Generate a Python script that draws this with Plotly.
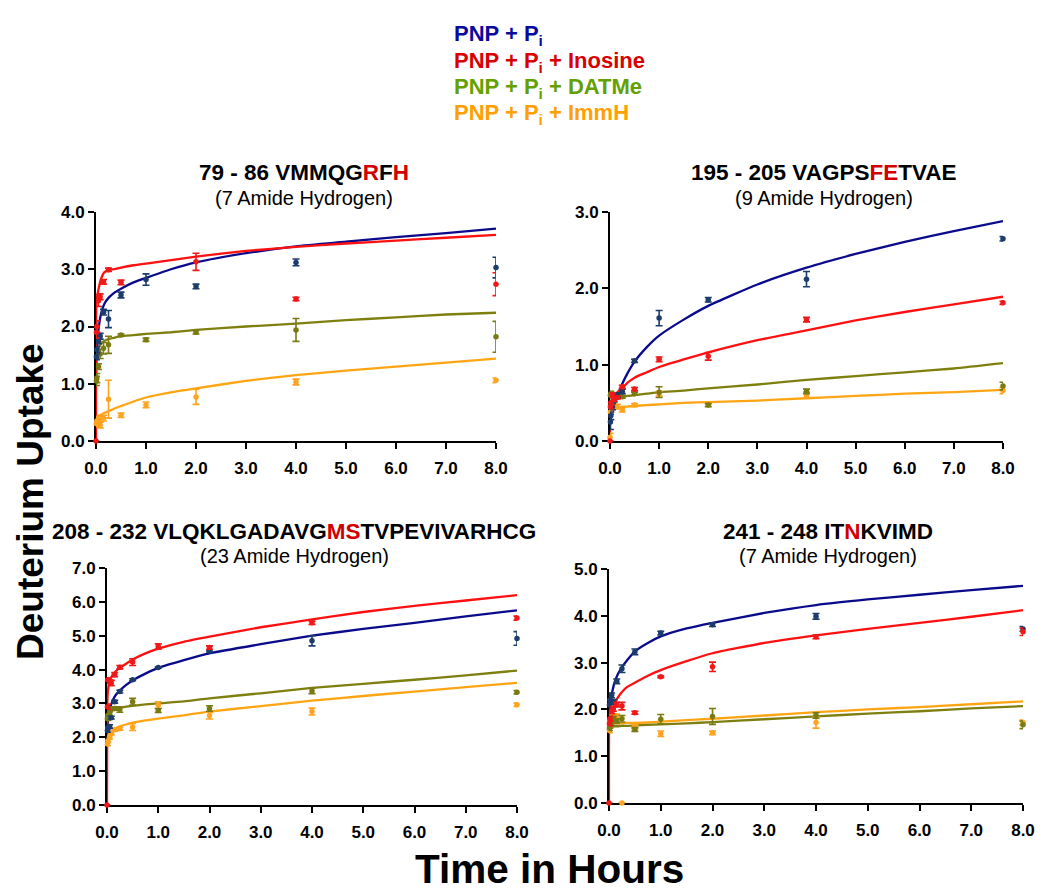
import plotly.graph_objects as go

# ---------------- data ----------------
T = [0, 0.0083, 0.0167, 0.05, 0.083, 0.15, 0.25, 0.5, 1, 2, 4, 8]
CT = [0, 0.004, 0.02, 0.05, 0.1, 0.17, 0.25, 0.35, 0.5, 0.75, 1, 1.5, 2, 3, 4, 5, 6, 7, 8]

# Panel 1: 79 - 86
p1_blue = [None, 1.47, 1.6, 1.75, 1.83, 2.25, 2.13, 2.55, 2.82, 2.70, 3.12, 3.03]
p1_blue_err = [0, 0.05, 0.05, 0.05, 0.05, 0.05, 0.15, 0.05, 0.1, 0.04, 0.06, 0.18]
p1_red = [0, 1.9, 2.0, 2.45, 2.52, 2.78, 2.99, 2.77, None, 3.13, 2.48, 2.74]
p1_red_err = [0, 0.1, 0.1, 0.1, 0.05, 0.04, 0.03, 0.04, 0, 0.15, 0.03, 0.2]
p1_green = [None, 1.05, 1.1, 1.3, 1.52, 1.62, 1.68, 1.85, 1.77, 1.90, 1.94, 1.82]
p1_green_err = [0, 0.08, 0.08, 0.05, 0.08, 0.1, 0.15, 0.02, 0.03, 0.03, 0.2, 0.27]
p1_orange = [None, 0.3, 0.35, 0.38, 0.28, 0.40, 0.73, 0.45, 0.63, 0.77, 1.03, 1.06]
p1_orange_err = [0, 0.05, 0.05, 0.05, 0.05, 0.05, 0.33, 0.04, 0.05, 0.13, 0.05, 0.04]
p1_blue_fit = [None, 1.45, 1.62, 1.95, 2.22, 2.4, 2.5, 2.58, 2.66, 2.77, 2.85, 3.0, 3.12, 3.28, 3.40, 3.48, 3.56, 3.63, 3.71]
p1_red_fit = [0, 2.3, 2.5, 2.65, 2.83, 2.95, 2.98, 3.0, 3.03, 3.07, 3.1, 3.16, 3.22, 3.32, 3.39, 3.45, 3.50, 3.55, 3.60]
p1_green_fit = [None, 1.1, 1.45, 1.62, 1.7, 1.75, 1.78, 1.8, 1.83, 1.85, 1.87, 1.9, 1.94, 2.0, 2.05, 2.11, 2.16, 2.21, 2.24]
p1_orange_fit = [None, 0.38, 0.42, 0.44, 0.46, 0.49, 0.52, 0.56, 0.61, 0.69, 0.76, 0.85, 0.92, 1.05, 1.15, 1.23, 1.30, 1.37, 1.44]

# Panel 2: 195 - 205
p2_blue = [None, 0.25, 0.33, 0.45, 0.55, 0.6, 0.65, 1.05, 1.61, 1.85, 2.12, 2.65]
p2_blue_err = [0, 0.1, 0.05, 0.04, 0.04, 0.03, 0.03, 0.02, 0.1, 0.03, 0.1, 0.03]
p2_red = [0, 0.45, 0.5, 0.6, 0.55, 0.57, 0.71, 0.68, 1.07, 1.11, 1.59, 1.81]
p2_red_err = [0, 0.03, 0.03, 0.03, 0.03, 0.02, 0.02, 0.02, 0.03, 0.05, 0.03, 0.02]
p2_green = [None, 0.6, 0.62, 0.6, 0.58, 0.58, 0.58, 0.62, 0.64, 0.47, 0.65, 0.72]
p2_green_err = [0, 0.03, 0.03, 0.03, 0.03, 0.02, 0.02, 0.02, 0.07, 0.02, 0.03, 0.05]
p2_orange = [0.05, 0.38, 0.45, 0.5, 0.48, 0.45, 0.41, 0.47, 0.62, None, 0.6, 0.66]
p2_orange_err = [0.05, 0.03, 0.03, 0.03, 0.03, 0.03, 0.03, 0.02, 0.03, 0, 0.04, 0.04]
p2_blue_fit = [None, 0.28, 0.32, 0.38, 0.5, 0.62, 0.75, 0.88, 1.04, 1.23, 1.38, 1.59, 1.77, 2.05, 2.27, 2.45, 2.61, 2.75, 2.88]
p2_red_fit = [0, 0.45, 0.5, 0.55, 0.6, 0.65, 0.69, 0.76, 0.83, 0.9, 0.97, 1.07, 1.16, 1.32, 1.45, 1.58, 1.69, 1.79, 1.89]
p2_green_fit = [None, 0.62, 0.6, 0.59, 0.58, 0.58, 0.58, 0.59, 0.6, 0.62, 0.64, 0.66, 0.69, 0.74, 0.8, 0.85, 0.9, 0.95, 1.02]
p2_orange_fit = [None, 0.5, 0.47, 0.45, 0.44, 0.44, 0.45, 0.45, 0.46, 0.47, 0.48, 0.5, 0.51, 0.53, 0.56, 0.59, 0.62, 0.64, 0.67]

# Panel 3: 208 - 232
p3_blue = [None, 2.2, 2.3, 2.32, 2.58, 3.05, 3.35, 3.70, 4.06, 4.55, 4.85, 4.92]
p3_blue_err = [0, 0.05, 0.05, 0.05, 0.04, 0.04, 0.04, 0.03, 0.02, 0.03, 0.15, 0.2]
p3_red = [0, 2.9, 3.7, 3.65, 3.6, 3.85, 4.07, 4.22, 4.68, 4.65, 5.38, 5.52]
p3_red_err = [0, 0.08, 0.05, 0.05, 0.08, 0.06, 0.05, 0.1, 0.08, 0.05, 0.05, 0.06]
p3_green = [None, 2.55, 2.65, 2.7, 2.84, 2.85, 2.82, 3.05, 2.79, 2.85, 3.37, 3.33]
p3_green_err = [0, 0.05, 0.05, 0.05, 0.05, 0.05, 0.08, 0.1, 0.06, 0.08, 0.08, 0.05]
p3_orange = [None, 1.8, 1.9, 2.0, 2.12, 2.22, 2.25, 2.3, 2.95, 2.64, 2.76, 2.96]
p3_orange_err = [0, 0.05, 0.05, 0.05, 0.05, 0.04, 0.04, 0.1, 0.1, 0.1, 0.1, 0.05]
p3_blue_fit = [None, 2.2, 2.5, 2.8, 3.05, 3.25, 3.38, 3.52, 3.68, 3.88, 4.05, 4.28, 4.48, 4.75, 5.0, 5.2, 5.38, 5.57, 5.75]
p3_red_fit = [0, 2.9, 3.4, 3.65, 3.82, 3.95, 4.05, 4.15, 4.3, 4.48, 4.62, 4.82, 4.97, 5.25, 5.48, 5.7, 5.88, 6.04, 6.2]
p3_green_fit = [None, 2.55, 2.7, 2.78, 2.82, 2.85, 2.87, 2.9, 2.93, 2.97, 3.0, 3.06, 3.15, 3.3, 3.46, 3.58, 3.7, 3.83, 3.97]
p3_orange_fit = [None, 1.8, 2.0, 2.12, 2.2, 2.27, 2.32, 2.37, 2.43, 2.5, 2.55, 2.65, 2.76, 2.92, 3.08, 3.22, 3.35, 3.48, 3.61]

# Panel 4: 241 - 248
p4_blue = [None, 2.1, 2.2, 2.3, 2.16, 2.6, 2.87, 3.23, 3.63, 3.81, 3.99, 3.72]
p4_blue_err = [0, 0.05, 0.05, 0.05, 0.05, 0.05, 0.08, 0.06, 0.04, 0.04, 0.06, 0.05]
p4_red = [0, 1.7, 1.8, 1.96, 2.01, 2.1, 2.07, 1.93, 2.7, 2.91, 3.55, 3.66]
p4_red_err = [0, 0.05, 0.05, 0.05, 0.05, 0.05, 0.08, 0.03, 0.02, 0.1, 0.04, 0.08]
p4_green = [None, 1.6, 1.65, 1.7, 1.8, 1.75, 1.8, 1.57, 1.79, 1.85, 1.87, 1.67]
p4_green_err = [0, 0.05, 0.05, 0.05, 0.05, 0.05, 0.07, 0.04, 0.1, 0.17, 0.06, 0.08]
p4_orange = [None, 1.55, 1.75, 1.9, 1.85, 1.85, 0.0, 1.63, 1.48, 1.50, 1.72, 1.72]
p4_orange_err = [0, 0.05, 0.05, 0.05, 0.05, 0.05, 0, 0.04, 0.06, 0.04, 0.12, 0.05]
p4_blue_fit = [None, 1.9, 2.1, 2.3, 2.55, 2.75, 2.9, 3.05, 3.24, 3.42, 3.56, 3.73, 3.85, 4.06, 4.23, 4.35, 4.45, 4.55, 4.64]
p4_red_fit = [0, 1.7, 1.85, 1.98, 2.1, 2.25, 2.37, 2.48, 2.57, 2.72, 2.84, 3.03, 3.2, 3.42, 3.58, 3.72, 3.85, 3.98, 4.12]
p4_green_fit = [None, 1.6, 1.62, 1.63, 1.64, 1.64, 1.65, 1.65, 1.66, 1.67, 1.68, 1.7, 1.73, 1.79, 1.85, 1.91, 1.96, 2.02, 2.07]
p4_orange_fit = [None, 1.7, 1.7, 1.7, 1.7, 1.7, 1.7, 1.71, 1.71, 1.72, 1.74, 1.77, 1.8, 1.87, 1.94, 2.0, 2.05, 2.11, 2.17]

Y_MAX = [4, 3, 7, 5]
X_TICKS = [0, 1, 2, 3, 4, 5, 6, 7, 8]

LEGEND_LABELS = ["PNP + P<sub>i</sub>", "PNP + P<sub>i</sub> + Inosine",
                 "PNP + P<sub>i</sub> + DATMe", "PNP + P<sub>i</sub> + ImmH"]
TITLES = ["79 - 86 VMMQG<span style='color:#d00000'>R</span>F<span style='color:#d00000'>H</span>",
          "195 - 205 VAGPS<span style='color:#d00000'>FE</span>TVAE",
          "208 - 232 VLQKLGADAVG<span style='color:#d00000'>MS</span>TVPEVIVARHCG",
          "241 - 248 IT<span style='color:#d00000'>N</span>KVIMD"]
SUBTITLES = ["(7 Amide Hydrogen)", "(9 Amide Hydrogen)", "(23 Amide Hydrogen)", "(7 Amide Hydrogen)"]

# ---------------- style ----------------
W, H = 1050, 896
OFF = 8  # page body margin
FONT = "Liberation Sans, Arial, sans-serif"
LINE_COL = {"blue": "#0a0a8c", "red": "#ff1010", "green": "#7f7f10", "orange": "#ffa514"}
MARK_COL = {"blue": "#1c3c6c", "red": "#f01818", "green": "#7a7a12", "orange": "#ffa320"}
LEG_COL = ["#0a0a9c", "#d80000", "#64a000", "#ffa000"]


def px(x):
    return (x - OFF) / W


def py(y):
    return 1 - (y - OFF) / H


# panel pixel boxes in the screenshot: (x_left, x_right, y_top, y_bottom)
BOXES = [(96, 496, 212, 441), (610, 1003, 212, 441), (107, 517, 568, 805), (609, 1023, 569, 803)]
TITLE_POS = [(304, 172, 198), (824, 172, 198), (294, 531, 556), (828, 531, 556)]

panels = [
    dict(pts={"blue": (p1_blue, p1_blue_err), "red": (p1_red, p1_red_err), "green": (p1_green, p1_green_err), "orange": (p1_orange, p1_orange_err)},
         fit={"blue": p1_blue_fit, "red": p1_red_fit, "green": p1_green_fit, "orange": p1_orange_fit}),
    dict(pts={"blue": (p2_blue, p2_blue_err), "red": (p2_red, p2_red_err), "green": (p2_green, p2_green_err), "orange": (p2_orange, p2_orange_err)},
         fit={"blue": p2_blue_fit, "red": p2_red_fit, "green": p2_green_fit, "orange": p2_orange_fit}),
    dict(pts={"blue": (p3_blue, p3_blue_err), "red": (p3_red, p3_red_err), "green": (p3_green, p3_green_err), "orange": (p3_orange, p3_orange_err)},
         fit={"blue": p3_blue_fit, "red": p3_red_fit, "green": p3_green_fit, "orange": p3_orange_fit}),
    dict(pts={"blue": (p4_blue, p4_blue_err), "red": (p4_red, p4_red_err), "green": (p4_green, p4_green_err), "orange": (p4_orange, p4_orange_err)},
         fit={"blue": p4_blue_fit, "red": p4_red_fit, "green": p4_green_fit, "orange": p4_orange_fit}),
]

fig = go.Figure()
ORDER = ["orange", "green", "blue", "red"]
layout_axes = {}
for i, p in enumerate(panels):
    n = "" if i == 0 else str(i + 1)
    xa, ya = "x" + n, "y" + n
    for s in ORDER:
        fig.add_trace(go.Scatter(x=CT, y=p["fit"][s], mode="lines", xaxis=xa, yaxis=ya,
                                 line=dict(color=LINE_COL[s], width=2.3, shape="spline", smoothing=0.5),
                                 cliponaxis=False, showlegend=False, hoverinfo="skip"))
    for s in ORDER:
        vals, errs = p["pts"][s]
        fig.add_trace(go.Scatter(x=T, y=vals, mode="markers", xaxis=xa, yaxis=ya,
                                 marker=dict(color=MARK_COL[s], size=5.5),
                                 error_y=dict(type="data", array=errs, visible=True,
                                              color=MARK_COL[s], thickness=1.6, width=3.5),
                                 cliponaxis=False, showlegend=False))
    x0, x1, yt, yb = BOXES[i]
    axis_common = dict(showline=True, linecolor="black", linewidth=2, ticks="outside",
                       ticklen=6, tickwidth=2, tickcolor="black", showgrid=False, zeroline=False,
                       layer="below traces", automargin=False,
                       tickfont=dict(family=FONT, size=17, color="black", weight="bold"))
    layout_axes["xaxis" + n] = dict(axis_common, domain=[px(x0), px(x1)], range=[0, 8],
                                    tickvals=X_TICKS, tickformat=".1f", anchor=ya,
                                    ticklabelstandoff=5)
    layout_axes["yaxis" + n] = dict(axis_common, domain=[py(yb), py(yt)],
                                    range=[0, Y_MAX[i]], dtick=1, tickformat=".1f", anchor=xa)

annotations = []
for k, lab in enumerate(LEGEND_LABELS):
    annotations.append(dict(text="<b>" + lab + "</b>", x=px(452), y=py([35, 62, 88, 114][k]),
                            xref="paper", yref="paper", xanchor="left", yanchor="middle",
                            showarrow=False, font=dict(family=FONT, size=22, color=LEG_COL[k])))
for i in range(4):
    cx, ty, sy = TITLE_POS[i]
    annotations.append(dict(text="<b>" + TITLES[i] + "</b>", x=px(cx), y=py(ty), xref="paper", yref="paper",
                            xanchor="center", yanchor="middle", showarrow=False,
                            font=dict(family=FONT, size=22.5, color="black")))
    annotations.append(dict(text=SUBTITLES[i], x=px(cx), y=py(sy), xref="paper", yref="paper",
                            xanchor="center", yanchor="middle", showarrow=False,
                            font=dict(family=FONT, size=20, color="black")))
annotations.append(dict(text="<b>Deuterium Uptake</b>", x=px(30), y=py(502), xref="paper", yref="paper",
                        xanchor="center", yanchor="middle", textangle=-90, showarrow=False,
                        font=dict(family=FONT, size=37, color="black")))
annotations.append(dict(text="<b>Time in Hours</b>", x=px(549), y=py(869), xref="paper", yref="paper",
                        xanchor="center", yanchor="middle", showarrow=False,
                        font=dict(family=FONT, size=40.5, color="black")))

fig.update_layout(width=W, height=H, margin=dict(l=0, r=0, t=0, b=0, autoexpand=False),
                  paper_bgcolor="white", plot_bgcolor="white", showlegend=False,
                  annotations=annotations, **layout_axes)

fig.write_html("out.html")
